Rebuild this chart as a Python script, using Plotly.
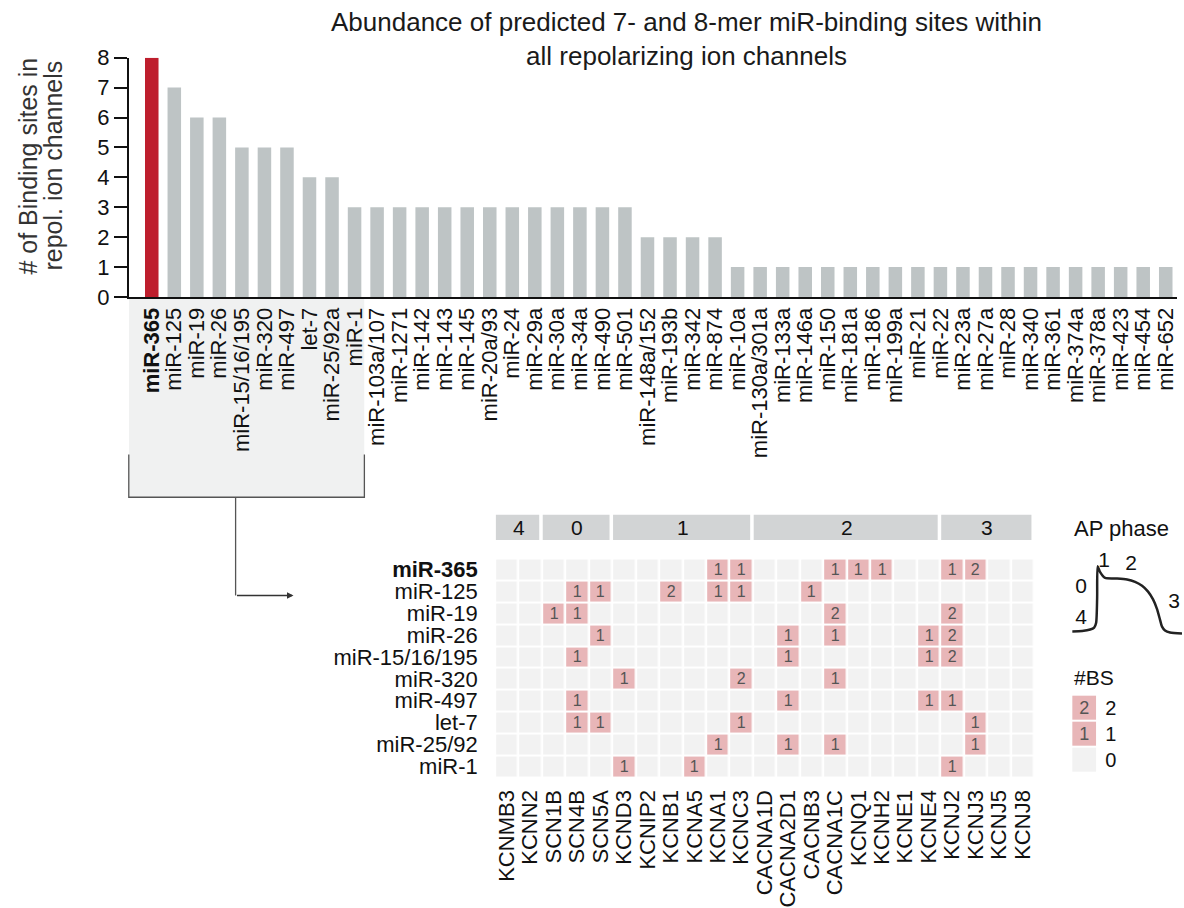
import plotly.graph_objects as go

# ---------------- data ----------------
mirs = ["miR-365", "miR-125", "miR-19", "miR-26", "miR-15/16/195", "miR-320", "miR-497",
        "let-7", "miR-25/92a", "miR-1", "miR-103a/107", "miR-1271", "miR-142", "miR-143",
        "miR-145", "miR-20a/93", "miR-24", "miR-29a", "miR-30a", "miR-34a", "miR-490",
        "miR-501", "miR-148a/152", "miR-193b", "miR-342", "miR-874", "miR-10a",
        "miR-130a/301a", "miR-133a", "miR-146a", "miR-150", "miR-181a", "miR-186",
        "miR-199a", "miR-21", "miR-22", "miR-23a", "miR-27a", "miR-28", "miR-340",
        "miR-361", "miR-374a", "miR-378a", "miR-423", "miR-454", "miR-652"]
site_counts = [8, 7, 6, 6, 5, 5, 5, 4, 4, 3, 3, 3, 3, 3, 3, 3, 3, 3, 3, 3, 3, 3,
               2, 2, 2, 2, 1, 1, 1, 1, 1, 1, 1, 1, 1, 1, 1, 1, 1, 1, 1, 1, 1, 1, 1, 1]
highlight_mir = "miR-365"
n_top = 10  # miRs shown in the heatmap

heat_mirs = ["miR-365", "miR-125", "miR-19", "miR-26", "miR-15/16/195", "miR-320",
             "miR-497", "let-7", "miR-25/92", "miR-1"]
genes = ["KCNMB3", "KCNN2", "SCN1B", "SCN4B", "SCN5A", "KCND3", "KCNIP2", "KCNB1",
         "KCNA5", "KCNA1", "KCNC3", "CACNA1D", "CACNA2D1", "CACNB3", "CACNA1C", "KCNQ1",
         "KCNH2", "KCNE1", "KCNE4", "KCNJ2", "KCNJ3", "KCNJ5", "KCNJ8"]
binding_sites = [
    [0, 0, 0, 0, 0, 0, 0, 0, 0, 1, 1, 0, 0, 0, 1, 1, 1, 0, 0, 1, 2, 0, 0],  # miR-365
    [0, 0, 0, 1, 1, 0, 0, 2, 0, 1, 1, 0, 0, 1, 0, 0, 0, 0, 0, 0, 0, 0, 0],  # miR-125
    [0, 0, 1, 1, 0, 0, 0, 0, 0, 0, 0, 0, 0, 0, 2, 0, 0, 0, 0, 2, 0, 0, 0],  # miR-19
    [0, 0, 0, 0, 1, 0, 0, 0, 0, 0, 0, 0, 1, 0, 1, 0, 0, 0, 1, 2, 0, 0, 0],  # miR-26
    [0, 0, 0, 1, 0, 0, 0, 0, 0, 0, 0, 0, 1, 0, 0, 0, 0, 0, 1, 2, 0, 0, 0],  # miR-15/16/195
    [0, 0, 0, 0, 0, 1, 0, 0, 0, 0, 2, 0, 0, 0, 1, 0, 0, 0, 0, 0, 0, 0, 0],  # miR-320
    [0, 0, 0, 1, 0, 0, 0, 0, 0, 0, 0, 0, 1, 0, 0, 0, 0, 0, 1, 1, 0, 0, 0],  # miR-497
    [0, 0, 0, 1, 1, 0, 0, 0, 0, 0, 1, 0, 0, 0, 0, 0, 0, 0, 0, 0, 1, 0, 0],  # let-7
    [0, 0, 0, 0, 0, 0, 0, 0, 0, 1, 0, 0, 1, 0, 1, 0, 0, 0, 0, 0, 1, 0, 0],  # miR-25/92
    [0, 0, 0, 0, 0, 1, 0, 0, 1, 0, 0, 0, 0, 0, 0, 0, 0, 0, 0, 1, 0, 0, 0],  # miR-1
]
phase_names = ["4", "0", "1", "2", "3"]
phase_sizes = [2, 3, 6, 8, 4]

legend_values = [2, 1, 0]

# schematic action potential (time, voltage) in arbitrary units
ap_time = [0, 10, 18, 22, 24, 25, 25.5, 28, 33, 45, 55, 63, 70, 76, 81, 85, 88, 90, 93, 98, 110]
ap_volt = [5, 5.5, 7, 9, 14, 40, 72, 66, 60, 59.5, 58.5, 56, 52, 46, 38, 28, 17, 10, 6, 4, 3]
ap_labels = ["1", "2", "0", "4", "3"]
ap_label_t = [32, 59, 9, 9, 102]
ap_label_v = [77, 74, 50, 18, 35]

# ---------------- styling ----------------
W, H = 1184, 908
FONT = "Arial, Liberation Sans, sans-serif"
BAR_GRAY = "#bec4c5"
BAR_RED = "#be1e2d"
PINK = "#e8b6b8"
ZERO = "#f2f2f2"
HEAD = "#d2d4d5"


def px(x):
    return x / W


def py(y):
    return 1 - y / H


bar_colors = [BAR_RED if m == highlight_mir else BAR_GRAY for m in mirs]
bar_ticktext = [f"<b>{m}</b>" if m == highlight_mir else m for m in mirs]
heat_ticktext = [f"<b>{m}</b>" if m == highlight_mir else m for m in heat_mirs]
heat_text = [[str(v) if v > 0 else "" for v in row] for row in binding_sites]

fig = go.Figure()

fig.add_trace(go.Bar(x=mirs, y=site_counts, marker=dict(color=bar_colors, line_width=0),
                     width=0.6, xaxis="x", yaxis="y", hoverinfo="x+y"))

cscale = [[0, ZERO], [0.25, ZERO], [0.25, PINK], [1, PINK]]
fig.add_trace(go.Heatmap(x=genes, y=heat_mirs, z=binding_sites, text=heat_text,
                         texttemplate="%{text}", textfont=dict(size=16, color="#555555", family=FONT),
                         colorscale=cscale, zmin=0, zmax=2, showscale=False,
                         xgap=2.5, ygap=2, xaxis="x2", yaxis="y2"))

fig.add_trace(go.Scatter(x=ap_time, y=ap_volt, mode="lines",
                         line=dict(color="#222222", width=2.5, shape="spline", smoothing=0.6),
                         xaxis="x3", yaxis="y3", hoverinfo="skip"))
fig.add_trace(go.Scatter(x=ap_label_t, y=ap_label_v, mode="text", text=ap_labels,
                         textfont=dict(size=21, color="#111111", family=FONT),
                         xaxis="x3", yaxis="y3", hoverinfo="skip"))

fig.add_trace(go.Heatmap(x=["#BS"], y=[str(v) for v in legend_values],
                         z=[[v] for v in legend_values],
                         text=[[str(v) if v > 0 else ""] for v in legend_values],
                         texttemplate="%{text}", textfont=dict(size=18, color="#555555", family=FONT),
                         colorscale=cscale, zmin=0, zmax=2, showscale=False, ygap=2,
                         xaxis="x4", yaxis="y4"))

shapes = []
annotations = []

# shaded box behind the top-10 labels
shapes.append(dict(type="rect", xref="x", yref="paper", x0=-1.02, x1=n_top - 1 + 0.43,
                   y0=py(499), y1=py(295), fillcolor="#f0f1f1", line_width=0, layer="below"))
# bracket
shapes.append(dict(type="path", xref="paper", yref="paper",
                   path=f"M {px(128)},{py(455)} L {px(128)},{py(499)} L {px(364)},{py(499)} L {px(364)},{py(455)}",
                   line=dict(color="#555555", width=1.3)))
shapes.append(dict(type="line", xref="paper", yref="paper", x0=px(235), x1=px(235),
                   y0=py(499), y1=py(600), line=dict(color="#555555", width=1.3)))
annotations.append(dict(xref="paper", yref="paper", x=px(293), y=py(600), ax=-58, ay=0,
                        showarrow=True, arrowhead=2, arrowsize=1, arrowwidth=1.3,
                        arrowcolor="#333333", text=""))

# phase header bars
start = 0
for name, size in zip(phase_names, phase_sizes):
    end = start + size - 1
    shapes.append(dict(type="rect", xref="x2", yref="paper", x0=start - 0.5 + 0.03,
                       x1=end + 0.5 - 0.12, y0=py(543), y1=py(517),
                       fillcolor=HEAD, line_width=0))
    annotations.append(dict(xref="x2", yref="paper", x=(start + end) / 2, y=py(530),
                            text=name, showarrow=False, xanchor="center", yanchor="middle",
                            font=dict(size=21, color="#111111", family=FONT)))
    start = end + 1

# titles
annotations.append(dict(xref="paper", yref="paper", x=px(687), y=py(28),
                        text="Abundance of predicted 7- and 8-mer miR-binding sites within<br>all repolarizing ion channels",
                        showarrow=False, font=dict(size=26, color="#1a1a1a", family=FONT),
                        xanchor="center", yanchor="middle"))
annotations.append(dict(xref="paper", yref="paper", x=px(27), y=py(158), text="# of Binding sites in",
                        textangle=-90, showarrow=False, xanchor="center", yanchor="middle",
                        font=dict(size=25, color="#333333", family=FONT)))
annotations.append(dict(xref="paper", yref="paper", x=px(52), y=py(158), text="repol. ion channels",
                        textangle=-90, showarrow=False, xanchor="center", yanchor="middle",
                        font=dict(size=25, color="#333333", family=FONT)))
annotations.append(dict(xref="paper", yref="paper", x=px(1073), y=py(531), text="AP phase",
                        xanchor="left", yanchor="middle", showarrow=False,
                        font=dict(size=22, color="#111111", family=FONT)))
annotations.append(dict(xref="paper", yref="paper", x=px(1073), y=py(684), text="#BS",
                        xanchor="left", yanchor="middle", showarrow=False,
                        font=dict(size=21, color="#111111", family=FONT)))

fig.update_layout(
    width=W, height=H, margin=dict(l=0, r=0, t=0, b=0),
    paper_bgcolor="white", plot_bgcolor="rgba(0,0,0,0)",
    showlegend=False, font=dict(family=FONT, color="#111111"),
    shapes=shapes, annotations=annotations,
    bargap=0.4,
    xaxis=dict(domain=[px(128), px(1178)], anchor="y", type="category",
               categoryorder="array", categoryarray=mirs, range=[-1.02, 45.5],
               tickmode="array", tickvals=mirs, ticktext=bar_ticktext, tickangle=-90,
               tickfont=dict(size=22, color="#111111"), ticks="", showline=True,
               linecolor="#111111", linewidth=2, showgrid=False, zeroline=False),
    yaxis=dict(domain=[py(293), py(47)], anchor="x", range=[0, 8], tickvals=list(range(9)),
               ticks="outside", ticklen=13, tickwidth=2, tickcolor="#111111",
               tickfont=dict(size=22, color="#111111"), showline=True, linecolor="#111111",
               linewidth=2, showgrid=False, zeroline=False),
    xaxis2=dict(domain=[px(495), px(1035)], anchor="y2", type="category",
                categoryorder="array", categoryarray=genes, tickmode="array", tickvals=genes,
                ticktext=genes, tickangle=-90,
                tickfont=dict(size=22, color="#111111"), ticks="outside", ticklen=3,
                tickcolor="rgba(0,0,0,0)", showgrid=False, zeroline=False, showline=False),
    yaxis2=dict(domain=[py(787), py(562)], anchor="x2", type="category",
                categoryorder="array", categoryarray=heat_mirs, autorange="reversed",
                tickmode="array", tickvals=heat_mirs, ticktext=heat_ticktext,
                tickfont=dict(size=22, color="#111111"), ticks="outside", ticklen=12,
                tickcolor="rgba(0,0,0,0)", showgrid=False, zeroline=False, showline=False),
    xaxis3=dict(domain=[px(1073), px(1183)], anchor="y3", range=[0, 110], visible=False),
    yaxis3=dict(domain=[py(642), py(552)], anchor="x3", range=[0, 90], visible=False),
    xaxis4=dict(domain=[px(1073), px(1097)], anchor="y4", visible=False),
    yaxis4=dict(domain=[py(782), py(702)], anchor="x4", side="right", type="category",
                autorange="reversed", tickfont=dict(size=20, color="#111111"),
                ticks="outside", ticklen=4, tickcolor="rgba(0,0,0,0)",
                showgrid=False, zeroline=False, showline=False),
)

fig.write_html("out.html")
